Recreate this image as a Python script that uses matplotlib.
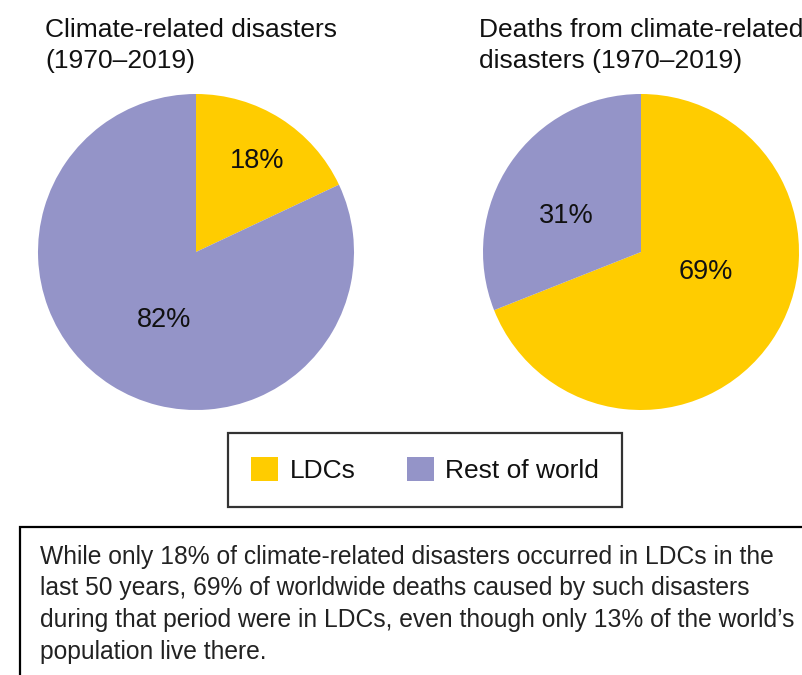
import matplotlib
matplotlib.use("Agg")
import matplotlib.pyplot as plt
from matplotlib.patches import Rectangle, Patch

plt.rcParams['font.family'] = ['Liberation Sans', 'DejaVu Sans']

# data
groups = ["LDCs", "Rest of world"]
colors = ["#FFCC00", "#9494C8"]
disasters = [18, 82]
deaths = [69, 31]
titles = [["Climate-related disasters", "(1970\u20132019)"],
          ["Deaths from climate-related", "disasters (1970\u20132019)"]]
note = ["While only 18% of climate-related disasters occurred in LDCs in the",
        "last 50 years, 69% of worldwide deaths caused by such disasters",
        "during that period were in LDCs, even though only 13% of the world\u2019s",
        "population live there."]

W, H = 803, 675
fig = plt.figure(figsize=(W / 100, H / 100), dpi=100)

def px(x, y):
    "pixel (from top-left) -> figure fraction"
    return x / W, 1 - y / H

R = 158
# pie centers in pixels, label positions (pixels) for each wedge
pies = [(196, 252, disasters, [(257, 161), (164, 320)]),
        (641, 252, deaths, [(706, 272), (566, 216)])]

for cx, cy, vals, labpos in pies:
    ax = fig.add_axes([(cx - R) / W, (H - cy - R) / H, 2 * R / W, 2 * R / H])
    ax.pie(vals, colors=colors, startangle=90, counterclock=False,
           radius=1, wedgeprops=dict(linewidth=0))
    ax.set_xlim(-1, 1)
    ax.set_ylim(-1, 1)
    ax.set_aspect('auto')
    ax.axis('off')
    for v, (lx, ly) in zip(vals, labpos):
        fig.text(*px(lx, ly), f"{v}%", fontsize=19.5, ha='center',
                 va='center', color='#111111')

# titles
for (tx, lines) in zip([45, 479], titles):
    for i, line in enumerate(lines):
        fig.text(*px(tx, 37 + 31 * i), line, fontsize=19,
                 va='baseline', ha='left', color='#111111')

# legend
handles = [Patch(facecolor=c, edgecolor='none', label=g)
           for c, g in zip(colors, groups)]
leg = fig.legend(handles=handles, loc='center', ncol=2,
                 bbox_to_anchor=px(425, 470), fontsize=19,
                 frameon=True, fancybox=False, borderpad=0.9,
                 handlelength=1.02, handleheight=1.02, handletextpad=0.42,
                 columnspacing=1.95)
leg.get_frame().set_edgecolor('black')
leg.get_frame().set_linewidth(1.6)
for t in leg.get_texts():
    t.set_color('#111111')

# note box
x0, y0 = px(20, 527)
fig.patches.append(Rectangle((x0, -0.05), 1.1, y0 + 0.05,
                             transform=fig.transFigure, facecolor='none',
                             edgecolor='black', linewidth=1.6))
for i, line in enumerate(note):
    fig.text(*px(40, 564 + 31.5 * i), line, fontsize=17.7,
             va='baseline', ha='left', color='#222222')

fig.savefig("out.png", dpi=100)
